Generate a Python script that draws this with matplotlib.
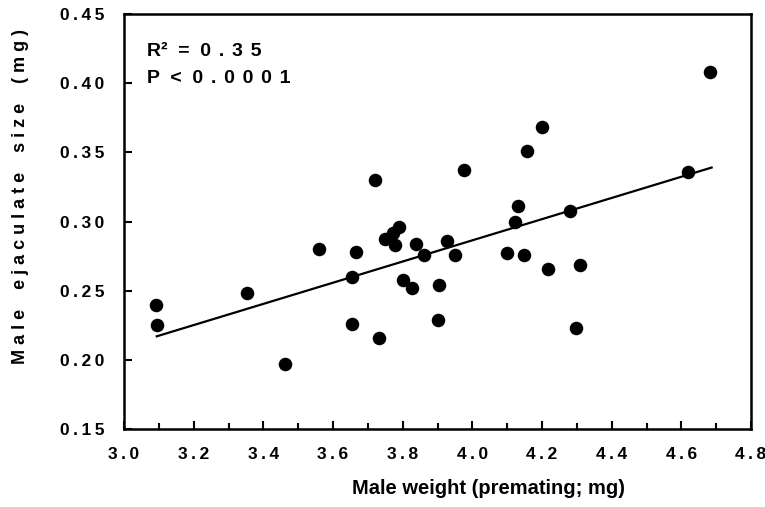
import matplotlib
matplotlib.use("Agg")
import matplotlib.pyplot as plt
from matplotlib.ticker import MultipleLocator

plt.rcParams['font.family'] = ['Liberation Sans', 'DejaVu Sans']
plt.rcParams['font.weight'] = 'bold'

male_weight = [3.092, 3.094, 3.352, 3.462, 3.561, 3.654, 3.654, 3.666, 3.722, 3.733,
               3.749, 3.771, 3.790, 3.778, 3.800, 3.826, 3.838, 3.861, 3.904, 3.902,
               3.928, 3.950, 3.977, 4.100, 4.123, 4.132, 4.148, 4.158, 4.201, 4.218,
               4.281, 4.298, 4.309, 4.618, 4.682]
ejaculate_size = [0.240, 0.225, 0.248, 0.197, 0.280, 0.260, 0.226, 0.278, 0.330, 0.216,
                  0.287, 0.292, 0.296, 0.283, 0.2575, 0.252, 0.284, 0.276, 0.2544, 0.229,
                  0.2856, 0.276, 0.3375, 0.2774, 0.300, 0.3115, 0.276, 0.351, 0.368, 0.266,
                  0.3074, 0.223, 0.2683, 0.336, 0.408]
fit_x = [3.094, 4.687]
fit_y = [0.217, 0.339]

x_ticks = [3.0, 3.2, 3.4, 3.6, 3.8, 4.0, 4.2, 4.4, 4.6, 4.8]
y_ticks = [0.15, 0.20, 0.25, 0.30, 0.35, 0.40, 0.45]

THIN = '\u2009'


def spaced(s, gap=' '):
    return gap.join(s)


fig = plt.figure(figsize=(7.65, 5.07), dpi=100)
ax = fig.add_axes([124/765, 1-429/507, (751-124)/765, (429-14)/507])

ax.plot(fit_x, fit_y, color='black', lw=1.6, zorder=2)
ax.scatter(male_weight, ejaculate_size, s=95, color='black', zorder=3, linewidths=0)

ax.set_xlim(3.0, 4.8)
ax.set_ylim(0.15, 0.45)
ax.set_xticks(x_ticks)
ax.set_xticklabels([spaced(f"{v:.1f}", THIN) for v in x_ticks])
ax.set_yticks(y_ticks)
ax.set_yticklabels([spaced(f"{v:.2f}", THIN) for v in y_ticks])
ax.xaxis.set_minor_locator(MultipleLocator(0.1))
ax.tick_params(axis='both', which='both', direction='in', top=False, right=False,
               width=1.5, labelsize=12.5)
ax.tick_params(axis='y', which='major', length=6, pad=14.0)
ax.tick_params(axis='x', which='major', length=6, pad=13.0)
ax.tick_params(axis='x', which='minor', length=4)
for lab in ax.get_xticklabels() + ax.get_yticklabels():
    lab.set_fontweight('bold')
for sp in ax.spines.values():
    sp.set_linewidth(1.8)

ax.set_xlabel('Male weight (premating; mg)', fontsize=14.5, fontweight='bold')
ax.xaxis.set_label_coords((489 - 124) / 627, -0.1205)
ylab = '    '.join(spaced(w, ' ') for w in 'Male ejaculate size (mg)'.split(' '))
ax.set_ylabel(ylab, fontsize=13, fontweight='bold')
ax.yaxis.set_label_coords(-0.1515, (429 - 196) / 415)

ax.text(0.0367, 0.899, 'R²  =  ' + spaced('0.35', THIN + THIN), transform=ax.transAxes,
        fontsize=14, fontweight='bold', va='baseline', ha='left')
ax.text(0.0367, 0.834, 'P  <  ' + spaced('0.0001', THIN + THIN), transform=ax.transAxes,
        fontsize=14, fontweight='bold', va='baseline', ha='left')

fig.savefig('out.png', dpi=100)
